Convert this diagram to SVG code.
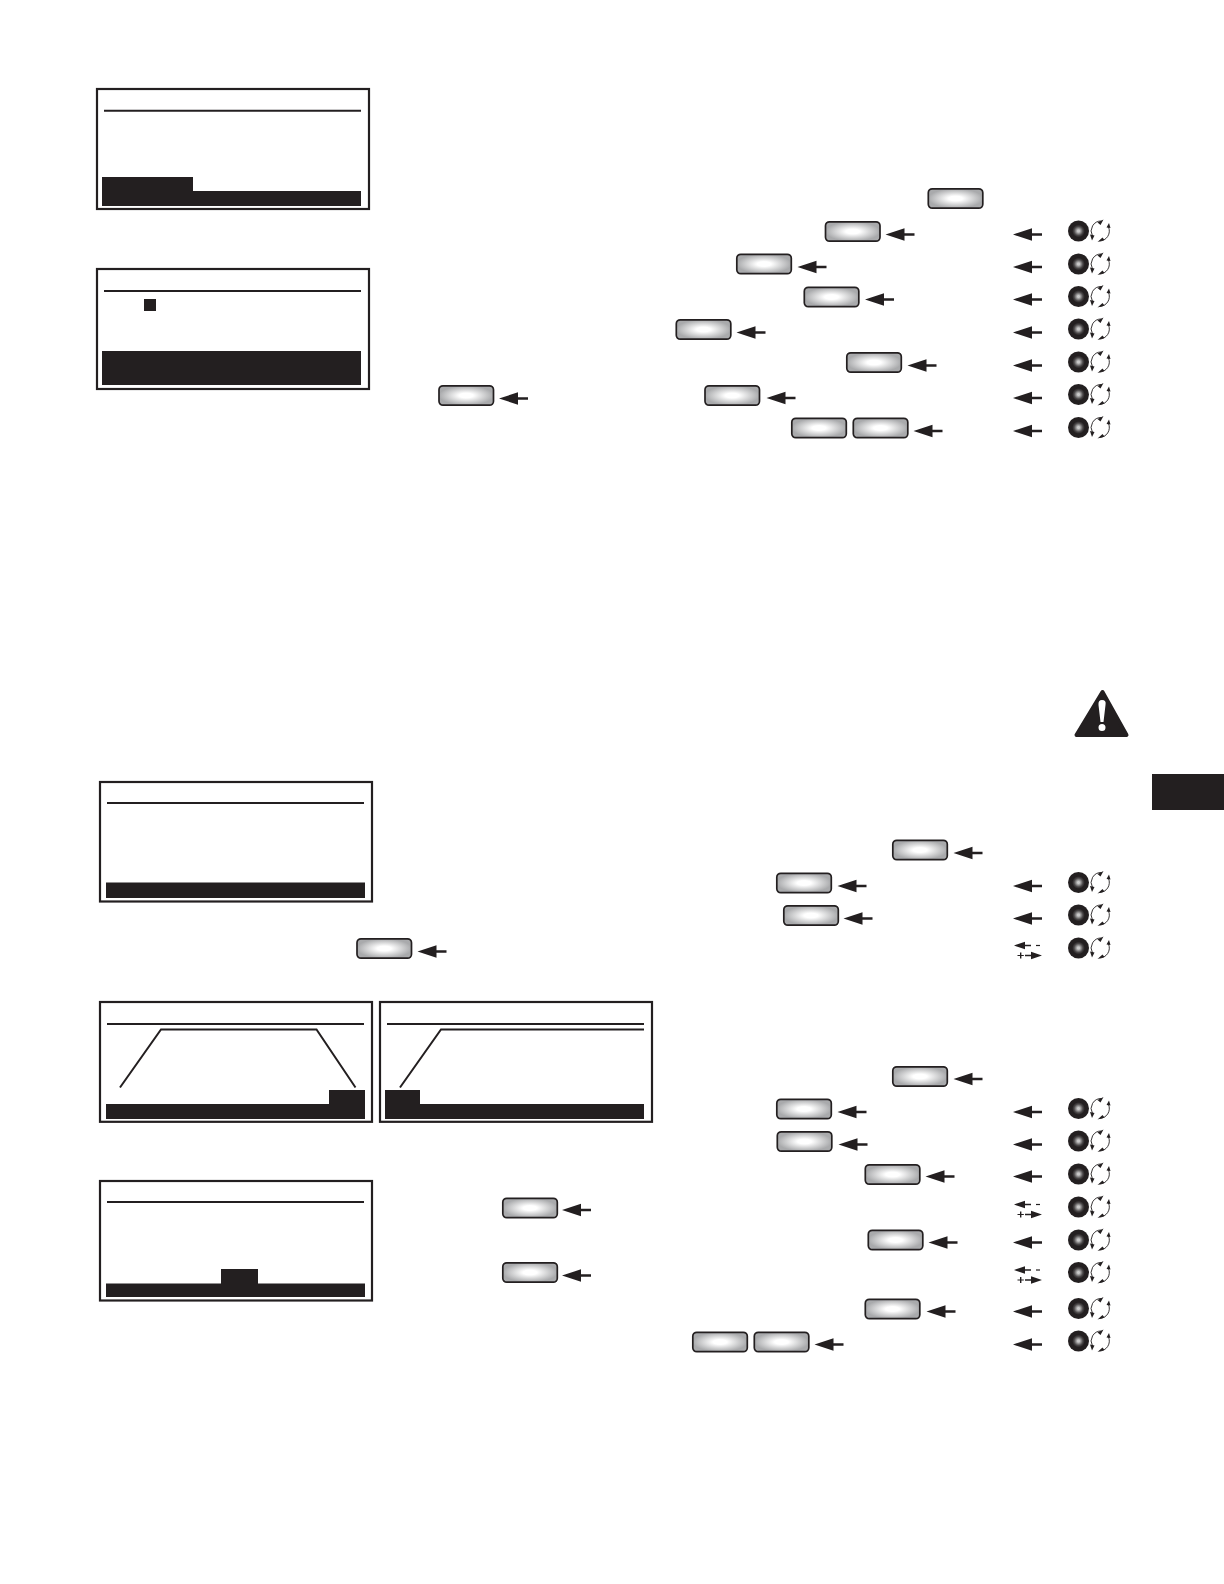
<svg xmlns="http://www.w3.org/2000/svg" width="1224" height="1584" viewBox="0 0 1224 1584">
<style>
.frame{fill:#fff;stroke:#231f20;stroke-width:2.2}
.ln{fill:none;stroke:#231f20;stroke-width:2}
.dk{fill:#231f20}
.btn{fill:url(#bg);stroke:#231f20;stroke-width:1.7}
.arc{fill:none;stroke:#231f20;stroke-width:.9}
</style>
<defs>
<radialGradient id="bg" cx=".5" cy=".5" r=".5"><stop offset=".25" stop-color="#fff"/><stop offset="1" stop-color="#a9aaac"/></radialGradient>
<radialGradient id="kg"><stop offset=".1" stop-color="#c8c8c8"/><stop offset=".42" stop-color="#4a4748"/><stop offset=".6" stop-color="#231f20"/></radialGradient>
<rect id="b" class="btn" x="0" y="-9.7" width="54.5" height="19.4" rx="4"/>
<g id="a"><path class="dk" d="M0 0L19-6.200V-1.200H29V1.200H19V6.200Z"/></g>
<g id="k"><circle cx="0" cy="0" r="10.500" fill="url(#kg)"/>
<path class="arc" d="M23-10A10 10 0 0 0 14 5M30-4A10 10 0 0 1 21 10"/>
<path class="dk" d="M25-11.500L19-8.500L22-6ZM13.500 9.500L11.500 3.500L16 4.500ZM19 11L26 9L24 6.500ZM30.500-8L32-3L28-3.500Z"/></g>
<g id="p"><path class="dk" d="M0 0L11-3.800V-.7H17V.7H11V3.800Z"/><rect class="dk" x="22" y="-.6" width="4" height="1.200"/>
<path class="dk" d="M28 10L17 6.200V9.300H11V10.700H17V13.800ZM3.500 9.400H6V7H7.400V9.400H9.800V10.600H7.400V13H6V10.600H3.500Z"/></g>
</defs>
<rect width="1224" height="1584" fill="#fff"/>

<g id="screen1"><rect class="frame" x="97" y="89" width="272" height="120"/><path class="ln" d="M104 110.700H361"/><path class="dk" d="M102 177H193V191H361V206H102Z"/></g>
<g id="screen2"><rect class="frame" x="97" y="269" width="272" height="120"/><path class="ln" d="M104 291H361"/><rect class="dk" x="144" y="299" width="12" height="12"/><rect class="dk" x="102" y="351" width="259" height="34"/></g>
<g id="screen3"><rect class="frame" x="100" y="782" width="272" height="119.500"/><path class="ln" d="M107 803H364"/><rect class="dk" x="106" y="882.500" width="259" height="15.500"/></g>
<g id="screen4"><rect class="frame" x="100" y="1002" width="272" height="119.800"/><path class="ln" d="M107 1024H364M120 1087.500L161 1029.500H316.500L355.500 1087.500"/><path class="dk" d="M106 1104H329V1090H365V1119H106Z"/></g>
<g id="screen5"><rect class="frame" x="380" y="1002" width="272" height="119.800"/><path class="ln" d="M387 1024H644M400 1087.500L441 1029.500H644"/><path class="dk" d="M385 1090H420V1104H644V1119H385Z"/></g>
<g id="screen6"><rect class="frame" x="100" y="1181" width="272" height="119.500"/><path class="ln" d="M107 1202H364"/><path class="dk" d="M106 1283.500H221V1269H258V1283.500H365V1297H106Z"/></g>

<g id="buttons">
<use href="#b" x="928.300" y="198.500"/><use href="#b" x="825.500" y="231.500"/><use href="#b" x="736.800" y="264"/><use href="#b" x="804.300" y="297"/><use href="#b" x="676.300" y="329.500"/><use href="#b" x="846.800" y="362.500"/><use href="#b" x="705" y="395.500"/><use href="#b" x="791.800" y="428"/><use href="#b" x="853.300" y="428"/><use href="#b" x="439" y="395.500"/>
<use href="#b" x="892.800" y="850"/><use href="#b" x="776.800" y="883"/><use href="#b" x="783.800" y="915.500"/><use href="#b" x="357" y="948.500"/>
<use href="#b" x="892.800" y="1076.500"/><use href="#b" x="776.800" y="1109"/><use href="#b" x="777.300" y="1141.500"/><use href="#b" x="865.300" y="1174.500"/><use href="#b" x="868.300" y="1240"/><use href="#b" x="865.300" y="1309"/><use href="#b" x="692.800" y="1342"/><use href="#b" x="754.300" y="1342"/><use href="#b" x="502.800" y="1208"/><use href="#b" x="502.800" y="1272.500"/>
</g>

<g id="knobs">
<use href="#k" x="1078.500" y="231"/><use href="#k" x="1078.500" y="264"/><use href="#k" x="1078.500" y="296.500"/><use href="#k" x="1078.500" y="329"/><use href="#k" x="1078.500" y="362"/><use href="#k" x="1078.500" y="394.500"/><use href="#k" x="1078.500" y="427.500"/>
<use href="#k" x="1078.500" y="882.500"/><use href="#k" x="1078.500" y="915"/><use href="#k" x="1078.500" y="948"/>
<use href="#k" x="1078.500" y="1108.500"/><use href="#k" x="1078.500" y="1141"/><use href="#k" x="1078.500" y="1174"/><use href="#k" x="1078.500" y="1207"/><use href="#k" x="1078.500" y="1240"/><use href="#k" x="1078.500" y="1272.500"/><use href="#k" x="1078.500" y="1308.500"/><use href="#k" x="1078.500" y="1341"/>
</g>

<g id="connectors">
<use href="#a" x="885.500" y="234.500"/><use href="#a" x="797.500" y="267"/><use href="#a" x="865" y="299.500"/><use href="#a" x="736.500" y="332.500"/><use href="#a" x="907.500" y="365.500"/><use href="#a" x="766.500" y="398"/><use href="#a" x="913.500" y="431"/><use href="#a" x="499" y="398.500"/>
<use href="#a" x="1013" y="234.500"/><use href="#a" x="1013" y="267"/><use href="#a" x="1013" y="299.500"/><use href="#a" x="1013" y="332.500"/><use href="#a" x="1013" y="365.500"/><use href="#a" x="1013" y="398"/><use href="#a" x="1013" y="431"/>
<use href="#a" x="953.500" y="853"/><use href="#a" x="837.500" y="886"/><use href="#a" x="843.500" y="918.500"/><use href="#a" x="417.500" y="951.500"/><use href="#a" x="1013" y="886"/><use href="#a" x="1013" y="918.500"/>
<use href="#a" x="953.500" y="1079"/><use href="#a" x="837.500" y="1112"/><use href="#a" x="838.500" y="1144.500"/><use href="#a" x="925.500" y="1176.500"/><use href="#a" x="928.500" y="1242.500"/><use href="#a" x="926.500" y="1311.500"/><use href="#a" x="814.500" y="1344.500"/><use href="#a" x="562" y="1210"/><use href="#a" x="562" y="1275.500"/>
<use href="#a" x="1013" y="1112"/><use href="#a" x="1013" y="1144.500"/><use href="#a" x="1013" y="1176.500"/><use href="#a" x="1013" y="1242.500"/><use href="#a" x="1013" y="1311.500"/><use href="#a" x="1013" y="1344.500"/>
<use href="#p" x="1014" y="945.500"/><use href="#p" x="1014" y="1204.500"/><use href="#p" x="1014" y="1270"/>
</g>

<g id="warning"><path class="dk" stroke="#231f20" stroke-width="4" stroke-linejoin="round" d="M1102.500 692L1126.500 735H1076.500Z"/><path fill="#fff" d="M1098.500 705Q1098 700 1102 700Q1106.500 700 1105.500 705L1103.500 722H1100.500ZM1102 724A3 3 0 1 0 1102 731A3 3 0 1 0 1102 724Z"/></g>
<rect id="tab" class="dk" x="1152" y="774" width="72" height="36"/>
</svg>
